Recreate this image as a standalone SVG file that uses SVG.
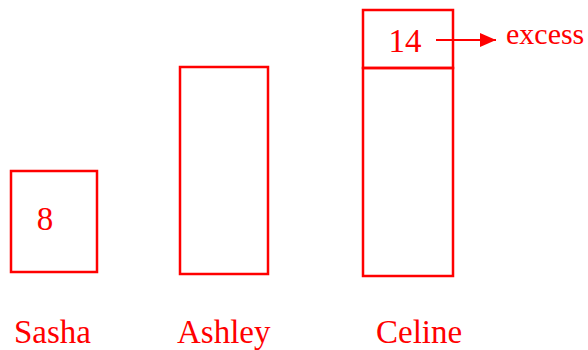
<svg xmlns="http://www.w3.org/2000/svg" width="588" height="350" viewBox="0 0 588 350">
<defs>
<style>
.box{fill:none;stroke:#ff0000;stroke-width:2.5}
.t{fill:#ff0000;font-family:"Liberation Serif","DejaVu Serif",serif;font-size:33px}
</style>
<marker id="ah" markerWidth="16" markerHeight="14" refX="16" refY="7" orient="auto" markerUnits="userSpaceOnUse">
<path d="M0,0 L16,7 L0,14 Z" fill="#ff0000"/>
</marker>
</defs>
<rect width="588" height="350" fill="#ffffff"/>
<g id="sasha">
<rect class="box" x="11" y="171" width="86" height="101"/>
<text class="t" x="45" y="230" text-anchor="middle">8</text>
<text class="t" x="14" y="343">Sasha</text>
</g>
<g id="ashley">
<rect class="box" x="180" y="67" width="88" height="207"/>
<text class="t" x="177" y="343">Ashley</text>
</g>
<g id="celine">
<rect class="box" x="363" y="68" width="90" height="208"/>
<text class="t" x="376" y="343">Celine</text>
</g>
<g id="excess-box">
<rect class="box" x="363" y="10" width="90" height="58"/>
<text class="t" x="405" y="52" text-anchor="middle">14</text>
</g>
<g id="excess-label">
<text class="t" x="506" y="44" style="font-size:30px">excess</text>
</g>
<g id="connectors">
<line x1="436" y1="40" x2="496" y2="40" stroke="#ff0000" stroke-width="2" marker-end="url(#ah)"/>
</g>
</svg>
